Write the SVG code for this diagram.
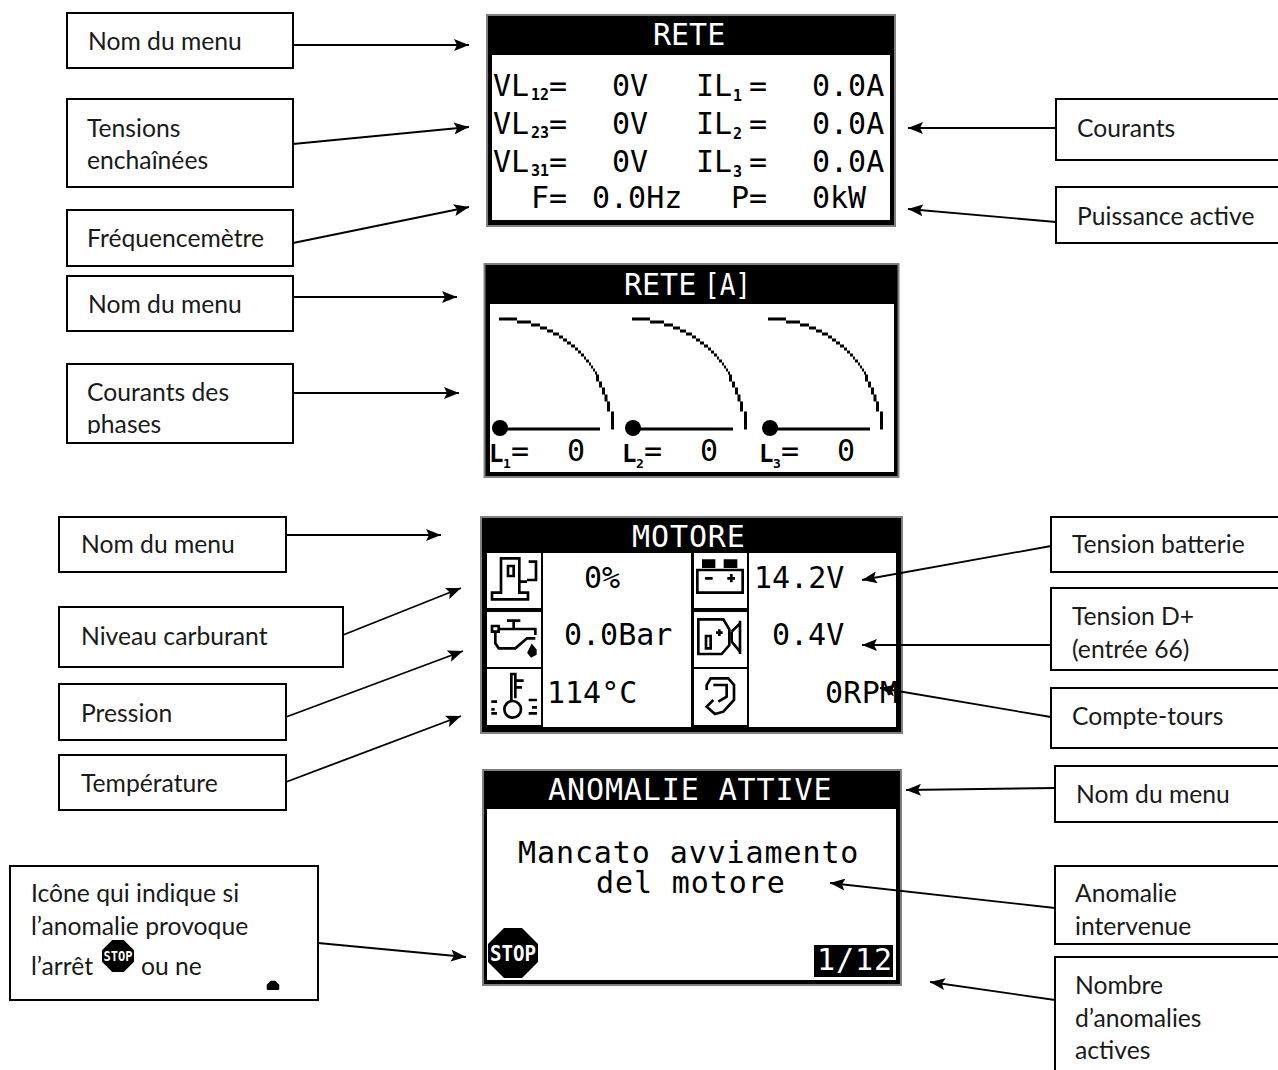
<svg xmlns="http://www.w3.org/2000/svg" width="1278" height="1070" viewBox="0 0 1278 1070">
<style>
.box{fill:#fff;stroke:#000;stroke-width:2}
.lb{font-family:Lato,"Liberation Sans",sans-serif;font-size:24.7px;fill:#1a1a1a;transform:translateY(1px)}
.frame{fill:#000;stroke:#808080;stroke-width:2}
.lcd{font-family:"DejaVu Sans Mono",monospace;font-size:30px;fill:#000}
.inv{fill:#fff}
.w{fill:#fff}
.sp{letter-spacing:.9px}
.sub{font-family:"DejaVu Sans Mono",monospace;font-size:15px;font-weight:bold;fill:#000}
.sm{font-size:13px;font-weight:bold}
.bl{font-size:24px;font-weight:bold}
.ln{fill:none;stroke:#000;stroke-width:1.8;marker-end:url(#ah)}
.ic{fill:none;stroke:#000;stroke-width:8}
.gauge{fill:none;stroke:#000;stroke-width:3}
.stop{font-family:"DejaVu Sans Mono",monospace;font-weight:bold;fill:#fff}
</style>
<defs>
<marker id="ah" markerUnits="userSpaceOnUse" markerWidth="16" markerHeight="12" refX="15" refY="6" orient="auto"><path d="M0 0L15 6L0 12L3 6Z" fill="#000"/></marker>
<clipPath id="c5"><rect x="68" y="405" width="224" height="29"/></clipPath>
<clipPath id="tiny"><rect x="260" y="980" width="26" height="10"/></clipPath>
<path id="gauge" d="M0 1.5H18M18 4.5H32M32 7.5H41M41 10.5H48M48 13.5H54M54 16.5H60M60 19.5H64M64 22.5H68M68 25.5H72M72 28.5H76M76 31.5H79M79 34.5H82M82 37.5H85M85 40.5H87M87 43.5H90M90 46.5H92M92 49.5H94M94 52.5H96M96 55.5H98M98.5 57V64M101.5 64V70M104.5 70V77M107 77V84M109.5 84V94M113.5 94V112"/>
<polygon id="oct" points="-9,-25 9,-25 25,-9 25,9 9,25 -9,25 -25,9 -25,-9"/>
</defs>

<g id="panel-rete">
<rect class="frame" x="487" y="15" width="408" height="211"/>
<rect class="w" x="492" y="55" width="398" height="165"/>
<text class="lcd inv" x="653" y="45">RETE</text>
<text class="lcd" x="493" y="96">VL</text><text class="sub" x="531" y="100" textLength="18" lengthAdjust="spacingAndGlyphs">12</text><text class="lcd" x="549" y="96">=</text><text class="lcd" x="612" y="96">0V</text><text class="lcd" x="696" y="96">IL</text><text class="sub" x="733" y="101">1</text><text class="lcd" x="749" y="96">=</text><text class="lcd" x="812" y="96">0.0A</text>
<text class="lcd" x="493" y="134">VL</text><text class="sub" x="531" y="138" textLength="18" lengthAdjust="spacingAndGlyphs">23</text><text class="lcd" x="549" y="134">=</text><text class="lcd" x="612" y="134">0V</text><text class="lcd" x="696" y="134">IL</text><text class="sub" x="733" y="139">2</text><text class="lcd" x="749" y="134">=</text><text class="lcd" x="812" y="134">0.0A</text>
<text class="lcd" x="493" y="172">VL</text><text class="sub" x="531" y="176" textLength="18" lengthAdjust="spacingAndGlyphs">31</text><text class="lcd" x="549" y="172">=</text><text class="lcd" x="612" y="172">0V</text><text class="lcd" x="696" y="172">IL</text><text class="sub" x="733" y="177">3</text><text class="lcd" x="749" y="172">=</text><text class="lcd" x="812" y="172">0.0A</text>
<text class="lcd" x="531" y="208">F=</text><text class="lcd" x="592" y="208">0.0Hz</text><text class="lcd" x="731" y="208">P=</text><text class="lcd" x="812" y="208">0kW</text>
</g>

<g id="panel-rete-a">
<rect class="frame" x="484.500" y="264" width="414" height="213"/>
<rect class="w" x="490" y="304" width="404" height="168"/>
<text class="lcd inv" x="624" y="295">RETE</text>
<text class="lcd inv" x="704" y="295" textLength="47" lengthAdjust="spacingAndGlyphs">[A]</text>
<use href="#gauge" class="gauge" x="499" y="317.500"/>
<use href="#gauge" class="gauge" x="632" y="317.500"/>
<use href="#gauge" class="gauge" x="768" y="317.500"/>
<circle cx="500" cy="428" r="8"/><path class="gauge" d="M500 429H600"/>
<circle cx="633" cy="428" r="8"/><path class="gauge" d="M633 429H733"/>
<circle cx="770" cy="428" r="8"/><path class="gauge" d="M770 429H870"/>
<text class="lcd" y="462"><tspan class="bl" x="489">L</tspan><tspan class="sm" x="503" dy="6">1</tspan><tspan x="511" dy="-7">=</tspan><tspan x="567">0</tspan></text>
<text class="lcd" y="462"><tspan class="bl" x="622">L</tspan><tspan class="sm" x="636" dy="6">2</tspan><tspan x="644" dy="-7">=</tspan><tspan x="700">0</tspan></text>
<text class="lcd" y="462"><tspan class="bl" x="759">L</tspan><tspan class="sm" x="773" dy="6">3</tspan><tspan x="781" dy="-7">=</tspan><tspan x="837">0</tspan></text>
</g>

<g id="panel-motore">
<rect class="frame" x="481" y="517" width="421" height="216"/>
<rect class="w" x="487" y="553" width="54" height="55"/>
<rect class="w" x="487" y="612" width="54" height="55"/>
<rect class="w" x="487" y="669" width="54" height="56"/>
<rect class="w" x="543" y="553" width="148" height="174"/>
<rect class="w" x="694" y="553" width="53" height="55"/>
<rect class="w" x="694" y="612" width="53" height="55"/>
<rect class="w" x="694" y="669" width="53" height="56"/>
<rect class="w" x="749" y="553" width="147" height="174"/>
<text class="lcd sp inv" x="632" y="547">MOTORE</text>
<text class="lcd" x="584" y="588">0%</text>
<text class="lcd" x="564" y="645">0.0Bar</text>
<text class="lcd" x="547" y="703">114°C</text>
<text class="lcd" x="754" y="588">14.2V</text>
<text class="lcd" x="772" y="645">0.4V</text>
<text class="lcd" x="825" y="703" textLength="73">0RPM</text>
<g transform="translate(482 550) scale(.33333)" class="ic">
<path d="M30 148V128H57V25H112V128H138V148ZM78 48H95V78H78ZM112 95H135M140 35H162V90H135"/>
<path d="M75 212H115M95 212V240M30 228H50V245H30ZM50 237H160V255M40 245V280L50 295H100L135 265H160"/>
<path d="M150 288L160 300V312L148 318L140 308Z" fill="#000"/>
<path d="M88 450V372H100V445M100 392H125M100 412H120M28 455H45M28 478H38M28 490H45M140 450H165M150 472H165M140 490H165"/><circle cx="92" cy="478" r="25"/>
</g>
<g transform="translate(690 550) scale(.33333)" class="ic">
<path d="M22 60H158V128H22Z"/>
<path d="M40 32H72V50H40ZM105 32H138V50H105Z" fill="#000"/>
<path d="M45 85H68M112 85H135M124 72V97"/>
<path d="M100 208H25V312H95L118 285V238ZM48 258V295H62V258ZM78 248H98M88 238V258"/>
<path d="M125 245V275M150 212V312M125 245L150 220M125 275L150 305"/>
<path d="M50 420V405L62 385H115L132 405V450L100 485L75 492L50 470L70 450M70 405H110V440L85 455"/>
</g>
</g>

<g id="panel-anomalie">
<rect class="frame" x="483" y="770" width="418" height="215"/>
<rect class="w" x="487" y="809" width="409" height="171"/>
<text class="lcd sp inv" x="548" y="800">ANOMALIE ATTIVE</text>
<text class="lcd sp"><tspan x="518" y="863">Mancato avviamento</tspan><tspan x="596" y="893">del motore</tspan></text>
<use href="#oct" x="513" y="953"/>
<text class="stop" x="513" y="961" font-size="22" text-anchor="middle" textLength="46" lengthAdjust="spacingAndGlyphs">STOP</text>
<rect x="814" y="945" width="79" height="32"/>
<text class="lcd sp inv" x="817" y="970">1/12</text>
</g>

<g id="connectors">
<path class="ln" d="M293 45H469"/>
<path class="ln" d="M293 144L469 127"/>
<path class="ln" d="M293 243L469 207"/>
<path class="ln" d="M293 297H457"/>
<path class="ln" d="M293 393H459"/>
<path class="ln" d="M286 535H441"/>
<path class="ln" d="M343 635L461 588"/>
<path class="ln" d="M286 717L463 651"/>
<path class="ln" d="M286 782L461 716"/>
<path class="ln" d="M318 943L466 957"/>
<path class="ln" d="M1056 128H908"/>
<path class="ln" d="M1056 222L908 209"/>
<path class="ln" d="M1055 1000L930 982"/>
<path class="ln" d="M1055 788L906 790"/>
<path class="ln" d="M1051 546L862 580"/>
<path class="ln" d="M1051 645H862"/>
<path class="ln" d="M1051 717L880 688"/>
<path class="ln" d="M1055 908L830 883"/>
</g>

<g id="n1"><rect class="box" x="67" y="13" width="226" height="55"/><text class="lb" x="88" y="49">Nom du menu</text></g>
<g id="n2"><rect class="box" x="67" y="99" width="226" height="88"/><text class="lb" x="87" y="136">Tensions</text><text class="lb" x="87" y="168">enchaînées</text></g>
<g id="n3"><rect class="box" x="67" y="210" width="226" height="56"/><text class="lb" x="87" y="246">Fréquencemètre</text></g>
<g id="n4"><rect class="box" x="67" y="276" width="226" height="55"/><text class="lb" x="88" y="312">Nom du menu</text></g>
<g id="n5"><rect class="box" x="67" y="364" width="226" height="79"/><text class="lb" x="87" y="400">Courants des</text><g clip-path="url(#c5)"><text class="lb" x="87" y="432">phases</text></g></g>
<g id="n6"><rect class="box" x="59" y="517" width="227" height="55"/><text class="lb" x="81" y="552">Nom du menu</text></g>
<g id="n7"><rect class="box" x="59" y="607" width="284" height="60"/><text class="lb" x="81" y="644">Niveau carburant</text></g>
<g id="n8"><rect class="box" x="59" y="684" width="227" height="56"/><text class="lb" x="81" y="721">Pression</text></g>
<g id="n9"><rect class="box" x="59" y="755" width="227" height="55"/><text class="lb" x="81" y="791">Température</text></g>
<g id="n10"><rect class="box" x="10" y="866" width="308" height="134"/>
<text class="lb" x="31" y="901">Icône qui indique si</text><text class="lb" x="31" y="934">l’anomalie provoque</text><text class="lb" x="31" y="974">l’arrêt</text><text class="lb" x="141" y="974">ou ne</text>
<use href="#oct" transform="translate(118 956) scale(.64)"/>
<text class="stop" x="118" y="961" font-size="14" text-anchor="middle" textLength="29" lengthAdjust="spacingAndGlyphs">STOP</text>
<g clip-path="url(#tiny)"><use href="#oct" transform="translate(273 987) scale(.25)"/></g>
</g>
<g id="n11"><rect class="box" x="1056" y="99" width="240" height="61"/><text class="lb" x="1077" y="136">Courants</text></g>
<g id="n12"><rect class="box" x="1056" y="187" width="240" height="56"/><text class="lb" x="1077" y="224">Puissance active</text></g>
<g id="n13"><rect class="box" x="1051" y="517" width="240" height="55"/><text class="lb" x="1072" y="552">Tension batterie</text></g>
<g id="n14"><rect class="box" x="1051" y="588" width="240" height="82"/><text class="lb" x="1072" y="624">Tension D+</text><text class="lb" x="1072" y="657">(entrée 66)</text></g>
<g id="n15"><rect class="box" x="1051" y="688" width="240" height="60"/><text class="lb" x="1072" y="724">Compte-tours</text></g>
<g id="n16"><rect class="box" x="1055" y="766" width="240" height="56"/><text class="lb" x="1076" y="802">Nom du menu</text></g>
<g id="n17"><rect class="box" x="1055" y="866" width="240" height="78"/><text class="lb" x="1075" y="901">Anomalie</text><text class="lb" x="1075" y="934">intervenue</text></g>
<g id="n18"><rect class="box" x="1055" y="957" width="240" height="130"/><text class="lb" x="1075" y="993">Nombre</text><text class="lb" x="1075" y="1026">d’anomalies</text><text class="lb" x="1075" y="1058">actives</text></g>
</svg>
